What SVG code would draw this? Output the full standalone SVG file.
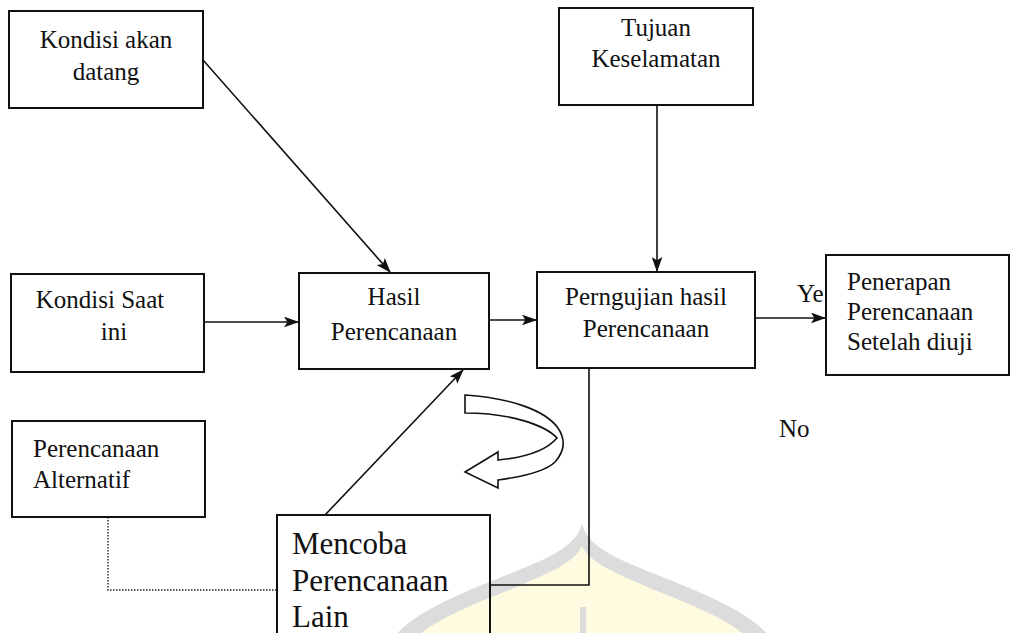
<svg xmlns="http://www.w3.org/2000/svg" width="1011" height="633" viewBox="0 0 1011 633">
<style>
.box{fill:none;stroke:#111;stroke-width:2}
.t{font-family:"Liberation Serif","Times New Roman",serif;font-size:25px;fill:#111}
.c{text-anchor:middle}
.big{font-size:31px}
.ln{fill:none;stroke:#111;stroke-width:1.6}
.dot{fill:none;stroke:#222;stroke-width:1.4;stroke-dasharray:1.5 1.5}
</style>
<defs>
<marker id="ah" viewBox="0 0 14 10" refX="13" refY="5" markerWidth="15" markerHeight="11" markerUnits="userSpaceOnUse" orient="auto">
<path d="M0,0 L14,5 L0,10 L3,5 Z" fill="#111"/>
</marker>
</defs>
<rect width="1011" height="633" fill="#fff"/>
<g id="watermark">
<path d="M582,524 C588,548 620,560 660,576 C710,596 755,615 772,640 L392,640 C409,615 454,596 504,576 C544,560 576,548 582,524 Z" fill="#dcdcdc"/>
<path d="M582,546 C590,563 615,573 652,589 C698,607 733,622 750,640 L414,640 C431,622 466,607 512,589 C549,573 574,563 582,546 Z" fill="#fffbe0"/>
<rect x="580" y="607" width="6" height="30" fill="#dcdcdc"/>
</g>
<g id="connectors">
<line class="ln" x1="203" y1="60" x2="390" y2="272" marker-end="url(#ah)"/>
<line class="ln" x1="657" y1="105" x2="657" y2="271" marker-end="url(#ah)"/>
<line class="ln" x1="204" y1="322" x2="298" y2="322" marker-end="url(#ah)"/>
<line class="ln" x1="489" y1="320" x2="536" y2="320" marker-end="url(#ah)"/>
<line class="ln" x1="755" y1="318" x2="825" y2="318" marker-end="url(#ah)"/>
<line class="ln" x1="325" y1="515" x2="463" y2="370" marker-end="url(#ah)"/>
<polyline class="ln" points="589,368 589,585 490,585"/>
<polyline class="dot" points="108,517 108,590 277,590"/>
</g>
<g id="loop-arrow">
<path d="M465,395 C510,398 545,410 558,428 C566,440 564,452 555,462 C545,472 520,477 498,480 L498,488 L465,472 L498,452 L498,460 C520,458 545,452 557,438 C545,425 510,413 465,413 Z" fill="#fff" stroke="#111" stroke-width="1.6" stroke-linejoin="miter"/>
</g>
<g id="n-akan">
<rect class="box" x="9" y="11" width="194" height="97"/>
<text class="t c" x="106" y="48">Kondisi akan</text>
<text class="t c" x="106" y="80">datang</text>
</g>
<g id="n-tujuan">
<rect class="box" x="559" y="8" width="194" height="97"/>
<text class="t c" x="656" y="36">Tujuan</text>
<text class="t c" x="656" y="67">Keselamatan</text>
</g>
<g id="n-saat">
<rect class="box" x="11" y="274" width="193" height="98"/>
<text class="t c" x="100" y="308">Kondisi Saat</text>
<text class="t c" x="114" y="340">ini</text>
</g>
<g id="n-hasil">
<rect class="box" x="299" y="273" width="190" height="96"/>
<text class="t c" x="394" y="305">Hasil</text>
<text class="t c" x="394" y="340">Perencanaan</text>
</g>
<g id="n-uji">
<rect class="box" x="537" y="272" width="218" height="96"/>
<text class="t c" x="646" y="305">Perngujian hasil</text>
<text class="t c" x="646" y="337">Perencanaan</text>
</g>
<g id="labels">
<text class="t" x="797" y="302">Ye</text>
<text class="t" x="779" y="437">No</text>
</g>
<g id="n-terap">
<rect class="box" x="826" y="255" width="183" height="120"/>
<text class="t" x="847" y="290">Penerapan</text>
<text class="t" x="847" y="320">Perencanaan</text>
<text class="t" x="847" y="350">Setelah diuji</text>
</g>
<g id="n-alt">
<rect class="box" x="12" y="421" width="193" height="96"/>
<text class="t" x="33" y="457">Perencanaan</text>
<text class="t" x="33" y="488">Alternatif</text>
</g>
<g id="n-coba">
<rect class="box" x="277" y="515" width="213" height="130"/>
<text class="t big" x="292" y="554">Mencoba</text>
<text class="t big" x="292" y="591">Perencanaan</text>
<text class="t big" x="292" y="627">Lain</text>
</g>
</svg>
